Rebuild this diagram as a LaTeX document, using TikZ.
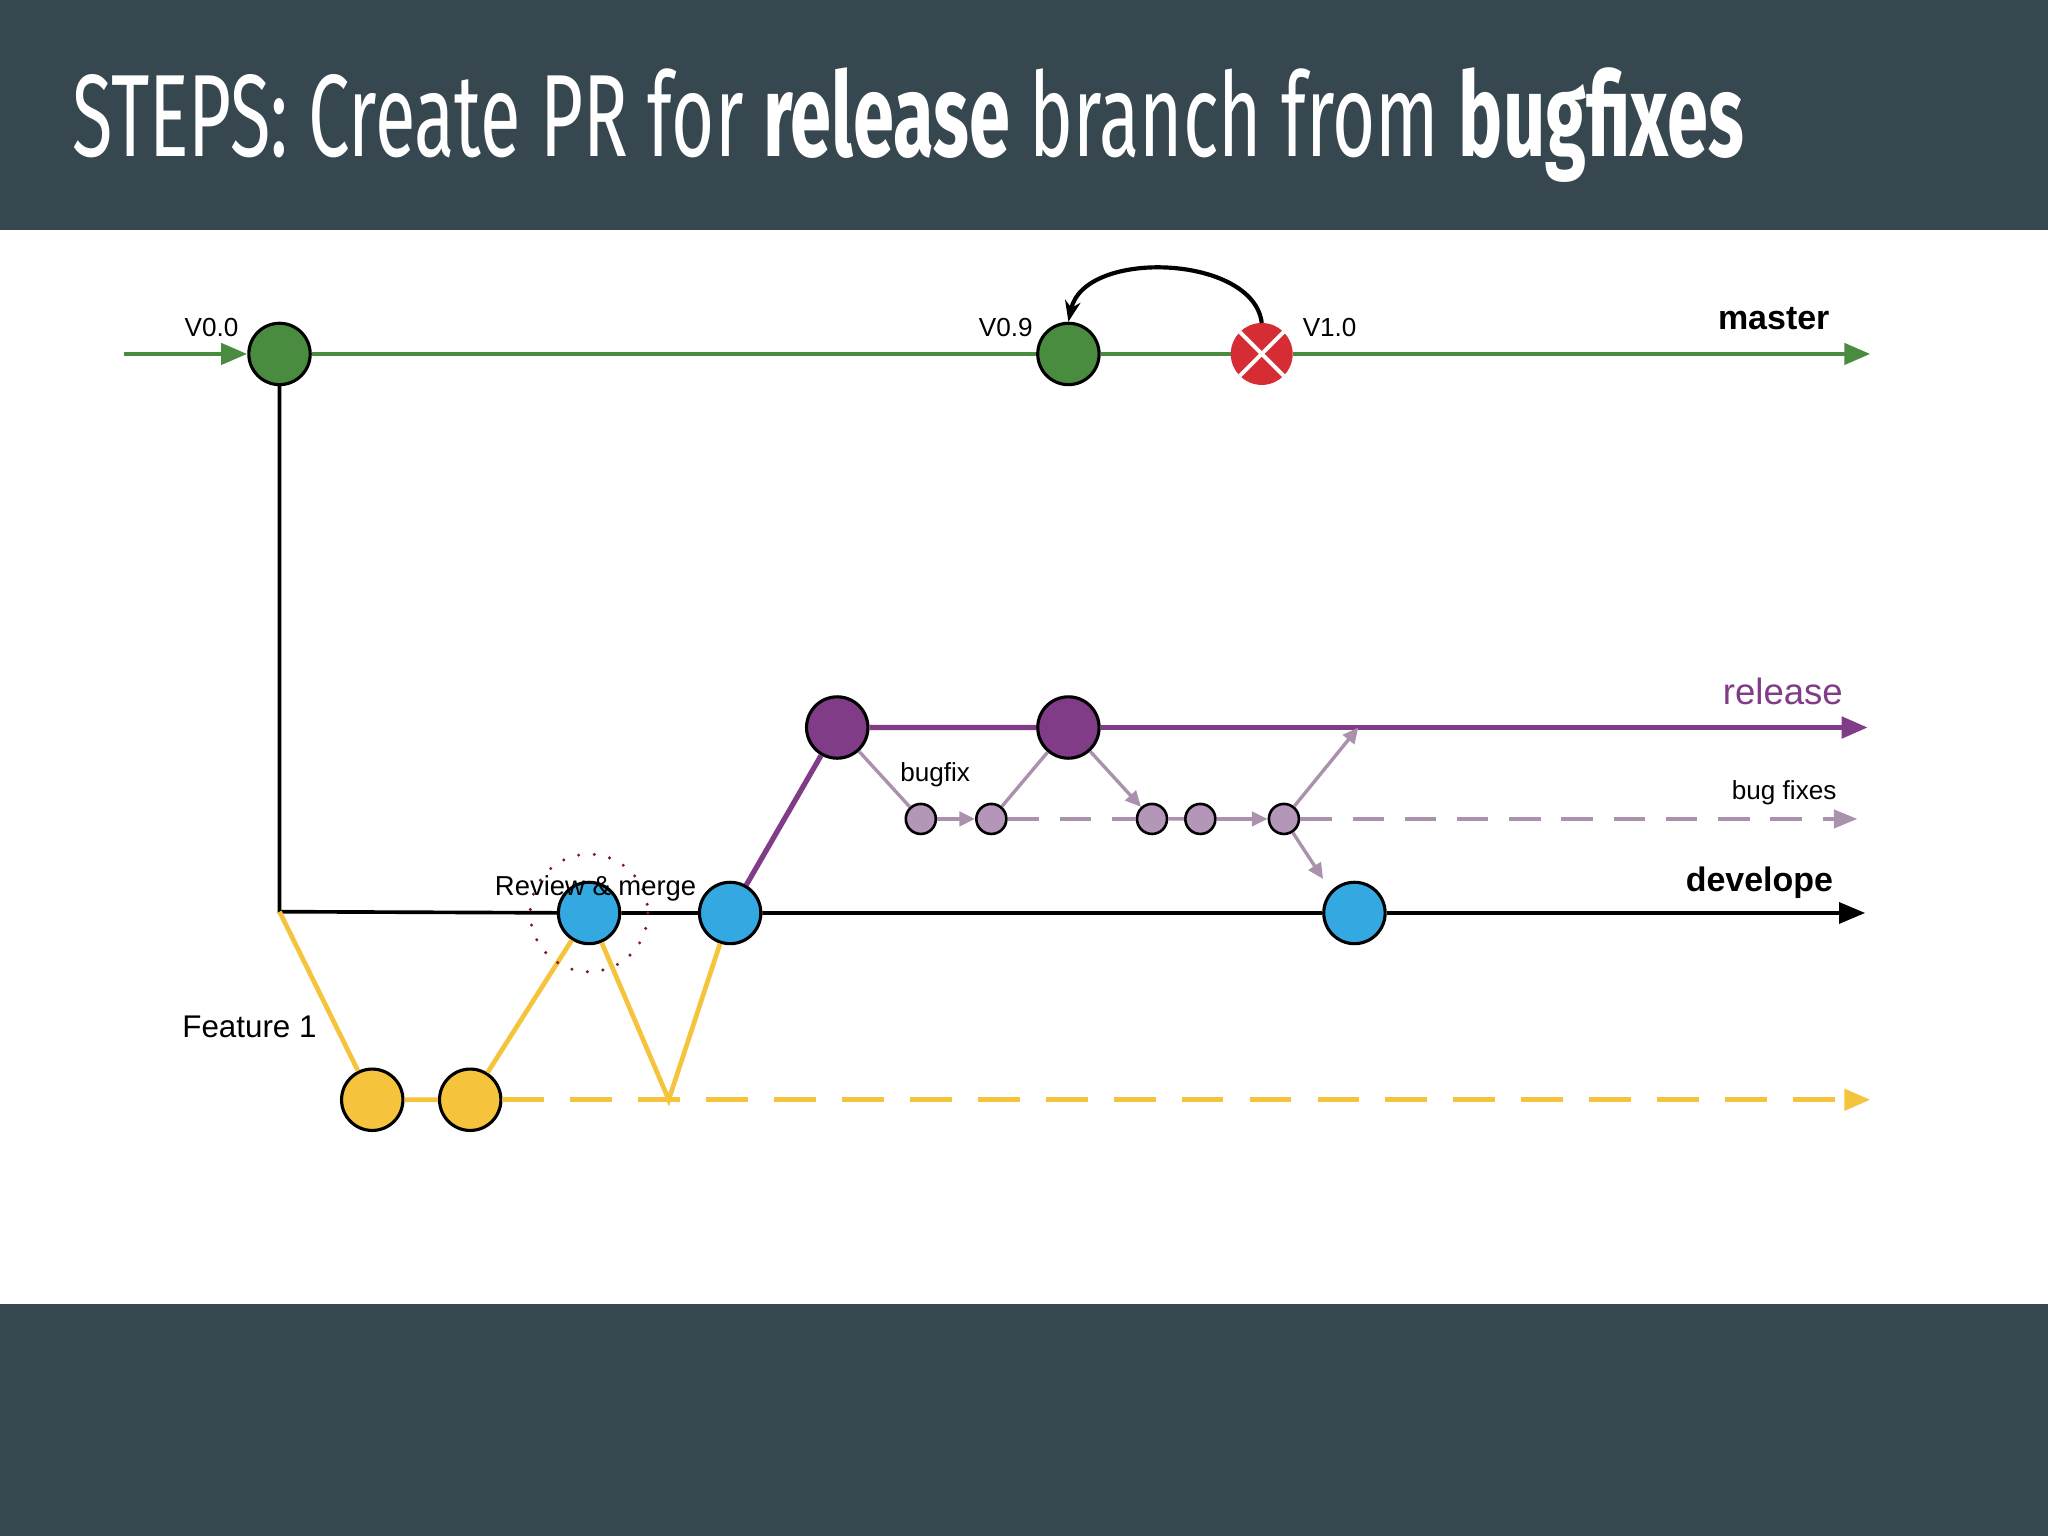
\documentclass[tikz,border=0pt]{standalone}
\usepackage{fontspec}
\setmainfont{Liberation Sans}
\newfontfamily\titlefont{Fira Sans}
\usetikzlibrary{arrows.meta}
\definecolor{band}{RGB}{55,71,79}
\definecolor{mgreen}{RGB}{74,140,63}
\definecolor{mpurple}{RGB}{128,60,135}
\definecolor{lpurple}{RGB}{180,150,185}
\definecolor{myellow}{RGB}{246,196,60}
\definecolor{mblue}{RGB}{52,168,224}
\definecolor{mred}{RGB}{214,44,52}
\tikzset{
 big/.style={circle,draw=black,line width=1.2pt,minimum size=23.5pt,inner sep=0pt},
 small/.style={circle,draw=black,line width=1pt,fill=lpurple,minimum size=11.5pt,inner sep=0pt},
 lbl/.style={font=\fontsize{10}{12}\selectfont},
 blbl/.style={font=\fontsize{13}{15}\selectfont\bfseries},
 tip/.style={-{Triangle[length=10pt,width=8pt]}},
 stip/.style={-{Triangle[length=6pt,width=5.5pt]}}
}
\begin{document}
\begin{tikzpicture}[x=0.5pt,y=-0.5pt]
\useasboundingbox (0,0) rectangle (1568,1176);
\fill[white] (0,0) rectangle (1568,1176);
\fill[band] (0,0) rectangle (1568,176);
\fill[band] (0,998) rectangle (1568,1176);
\node[anchor=west,text=white,inner sep=0pt] (title) at (55,96) {\resizebox{640pt}{34pt}{\titlefont STEPS: Create PR for \textbf{release} branch from \textbf{bugfixes}}};
% nodes
\node[big,fill=mgreen] (v00) at (214,271) {};
\node[big,fill=mgreen] (v09) at (818,271) {};
\node[big,fill=mred,draw=mred,minimum size=22.5pt] (v10) at (966,271) {};
\draw[white,line width=1.5pt] (v10.north west)--(v10.south east) (v10.north east)--(v10.south west);
\node[big,fill=mblue] (b1) at (451,699) {};
\node[big,fill=mblue] (b2) at (559,699) {};
\node[big,fill=mblue] (b3) at (1037,699) {};
\node[big,fill=mpurple] (p1) at (641,557) {};
\node[big,fill=mpurple] (p2) at (818,557) {};
\node[small] (s1) at (705,627) {};
\node[small] (s2) at (759,627) {};
\node[small] (s3) at (882,627) {};
\node[small] (s4) at (919,627) {};
\node[small] (s5) at (983,627) {};
\node[big,fill=myellow] (y1) at (285,842) {};
\node[big,fill=myellow] (y2) at (360,842) {};
\coordinate (mS) at (95,271); \coordinate (mE) at (1432,271);
\coordinate (corner) at (214,698); \coordinate (dE) at (1428,699);
\coordinate (rE) at (1430,557); \coordinate (bfE) at (1422,627);
\coordinate (yv) at (512,842); \coordinate (yE) at (1432,842);
\coordinate (rel) at (1040,557); \coordinate (dev) at (1013,673);
\draw[mgreen,line width=1.8pt,tip] (mS)--(v00);
\draw[mgreen,line width=1.8pt] (v00)--(v09) (v09)--(v10);
\draw[mgreen,line width=1.8pt,tip] (v10)--(mE);
\draw[black,line width=1.6pt,-{Stealth[length=8pt]}] (v10.north) .. controls (960,195) and (830,190) .. (v09.north);
\draw[black,line width=1.4pt] (v00)--(corner)--(b1) (b1)--(b2) (b2)--(b3);
\draw[black,line width=1.4pt,tip] (b3)--(dE);
\draw[mpurple,line width=2pt] (b2)--(p1) (p1)--(p2);
\draw[mpurple,line width=2pt,tip] (p2)--(rE);
\draw[lpurple!80!gray,line width=1.3pt] (p1)--(s1) (s2)--(p2) (s3)--(s4);
\draw[lpurple!80!gray,line width=1.3pt,stip] (s1)--(s2);
\draw[lpurple!80!gray,line width=1.3pt,stip] (p2)--(s3);
\draw[lpurple!80!gray,line width=1.3pt,stip] (s4)--(s5);
\draw[lpurple!80!gray,line width=1.3pt,stip] (s5)--(rel);
\draw[lpurple!80!gray,line width=1.3pt,stip] (s5)--(dev);
\draw[lpurple!80!gray,line width=1.3pt,dash pattern=on 12pt off 8pt] (s2)--(s3);
\draw[lpurple!80!gray,line width=1.3pt,dash pattern=on 12pt off 8pt,-{Triangle[length=9pt,width=7pt]}] (s5)--(bfE);
\draw[myellow,line width=1.8pt] (corner)--(y1) (y1)--(y2) (y2)--(b1) (b1)--(yv)--(b2);
\draw[myellow,line width=2pt,dash pattern=on 16pt off 10pt,tip] (y2)--(yE);
\draw[mred!60!black,line width=1.3pt,dash pattern=on 0pt off 6pt,line cap=round] (b1) circle[radius=45];
% labels
\node[lbl] (l00) at (162,251) {V0.0};
\node[lbl] (l09) at (770,251) {V0.9};
\node[lbl] (l10) at (1018,251) {V1.0};
\node[blbl] (lm) at (1358,244) {master};
\node[blbl] (ld) at (1347,676) {develope};
\node[font=\fontsize{14}{16}\selectfont,text=mpurple] (lr) at (1365,529) {release};
\node[lbl] (lbf) at (716,593) {bugfix};
\node[lbl] (lbfs) at (1366,607) {bug fixes};
\node[font=\fontsize{10.5}{12}\selectfont] (lrm) at (456,680) {Review \& merge};
\node[font=\fontsize{12}{14}\selectfont] (lf) at (191,786) {Feature 1};
\end{tikzpicture}
\end{document}
